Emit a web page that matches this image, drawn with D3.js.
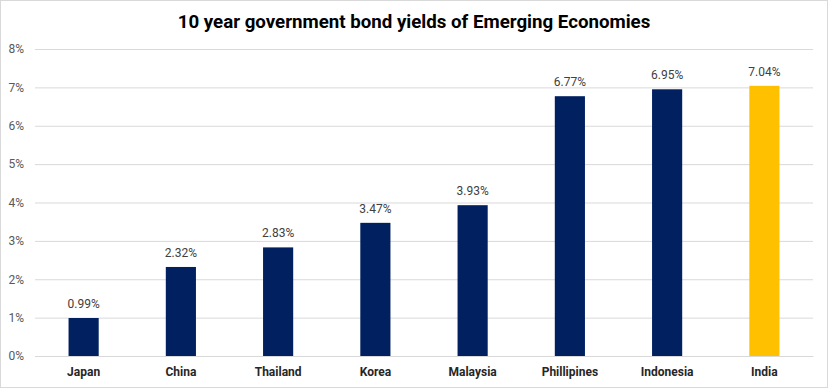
<!DOCTYPE html>
<html><head><meta charset="utf-8">
<script src="https://cdn.jsdelivr.net/npm/d3@7"></script>
<style>body{margin:0;background:#fff;}svg{display:block;font-family:Roboto,"Liberation Sans",Arial,sans-serif;}</style>
</head><body>
<svg id="c" width="828" height="388"></svg>
<script>
const categories = ["Japan","China","Thailand","Korea","Malaysia","Phillipines","Indonesia","India"];
const yields = [0.99,2.32,2.83,3.47,3.93,6.77,6.95,7.04];
const yTicks = [0,1,2,3,4,5,6,7,8];
const highlight = "India";

const svg = d3.select("#c");
const W = 828, H = 388;
svg.append("rect").attr("x",0.5).attr("y",0.5).attr("width",W-1).attr("height",H-1)
  .attr("fill","#fff").attr("stroke","#d9d9d9");

const x = d3.scaleBand().domain(categories).range([35,813]).paddingInner(0.69).paddingOuter(0.345);
const y = d3.scaleLinear().domain([0,8]).range([356,49]);

svg.append("text").attr("x",414).attr("y",28).attr("text-anchor","middle")
  .attr("font-size",18.7).attr("font-weight","bold").attr("fill","#000")
  .text("10 year government bond yields of Emerging Economies");

const yAxis = svg.append("g").attr("transform","translate(35,0)")
  .call(d3.axisLeft(y).tickValues(yTicks).tickSize(-778).tickFormat(d=>d+"%").tickPadding(11));
yAxis.select(".domain").remove();
yAxis.selectAll(".tick line").attr("stroke","#d9d9d9");
yAxis.selectAll(".tick text").attr("font-size",12).attr("fill","#595959").attr("font-family","Roboto,sans-serif");

svg.selectAll("rect.bar").data(categories).join("rect").attr("class","bar")
  .attr("x",d=>x(d)).attr("width",x.bandwidth())
  .attr("y",(d,i)=>y(yields[i])).attr("height",(d,i)=>y(0)-y(yields[i]))
  .attr("fill",d=>d===highlight?"#FFC000":"#002060");

svg.selectAll("text.val").data(categories).join("text").attr("class","val")
  .attr("x",d=>x(d)+x.bandwidth()/2).attr("y",(d,i)=>y(yields[i])-10)
  .attr("text-anchor","middle").attr("font-size",12).attr("fill","#404040")
  .text((d,i)=>yields[i].toFixed(2)+"%");

const xAxis = svg.append("g").attr("transform","translate(0,356)")
  .call(d3.axisBottom(x).tickSize(0).tickPadding(11));
xAxis.select(".domain").attr("stroke","#d9d9d9");
xAxis.selectAll(".tick text").attr("font-size",12).attr("font-weight","bold").attr("fill","#262626").attr("font-family","Roboto,sans-serif");
</script>
</body></html>
